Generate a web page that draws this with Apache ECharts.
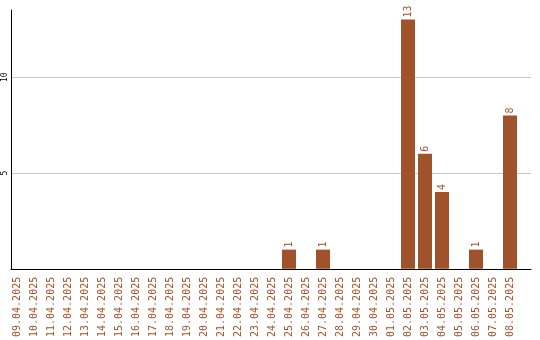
<!DOCTYPE html>
<html><head><meta charset="utf-8">
<script src="https://cdn.jsdelivr.net/npm/echarts@6/dist/echarts.min.js"></script>
<style>html,body{margin:0;padding:0;background:#fff}#c{width:540px;height:340px}</style>
</head><body><div id="c"></div>
<script>
var categories = ['09.04.2025','10.04.2025','11.04.2025','12.04.2025','13.04.2025','14.04.2025','15.04.2025','16.04.2025','17.04.2025','18.04.2025','19.04.2025','20.04.2025','21.04.2025','22.04.2025','23.04.2025','24.04.2025','25.04.2025','26.04.2025','27.04.2025','28.04.2025','29.04.2025','30.04.2025','01.05.2025','02.05.2025','03.05.2025','04.05.2025','05.05.2025','06.05.2025','07.05.2025','08.05.2025'];
var values = [0,0,0,0,0,0,0,0,0,0,0,0,0,0,0,0,1,0,1,0,0,0,0,13,6,4,0,1,0,8];
var yMax = 13.5;
var yInterval = 5;
var font = 'DejaVu Sans Mono';
var brown = '#a0522d';
var chart = echarts.init(document.getElementById('c'), null, {renderer:'canvas'});
chart.setOption({
  animation: false,
  backgroundColor: '#fff',
  grid: [
    {left: 11, top: 10, width: 520, height: 259},
    {left: 8.5, top: 10, width: 510, height: 259}
  ],
  xAxis: [
    {gridIndex: 0, type: 'category', data: categories, axisLine: {show: true, lineStyle: {color: '#000', width: 1}}, axisTick: {show: false}, axisLabel: {show: false}, splitLine: {show: false}},
    {gridIndex: 1, type: 'category', data: categories, axisLine: {show: false}, axisTick: {show: false},
     axisLabel: {interval: 0, rotate: 90, margin: 8, fontSize: 10, fontFamily: font, color: brown}}
  ],
  yAxis: [
    {gridIndex: 0, type: 'value', min: 0, max: yMax, interval: yInterval,
     axisLine: {show: true, lineStyle: {color: '#000', width: 1}}, axisTick: {show: false},
     axisLabel: {rotate: 90, fontSize: 8, fontFamily: font, color: '#000', margin: 2, showMinLabel: false, showMaxLabel: false},
     splitLine: {show: true, showMinLine: false, showMaxLine: false, lineStyle: {color: '#c8c8c8', width: 1}}},
    {gridIndex: 1, type: 'value', min: 0, max: yMax, interval: yInterval, show: false, splitLine: {show: false}}
  ],
  series: [{
    type: 'bar', xAxisIndex: 1, yAxisIndex: 1, data: values, barWidth: 14,
    itemStyle: {color: brown},
    label: {show: true, position: 'top', rotate: 90, align: 'left', verticalAlign: 'middle', distance: 2,
      fontSize: 10, fontFamily: font, color: brown,
      formatter: function(p){ return p.value ? String(p.value) : ''; }}
  }]
});
</script></body></html>
